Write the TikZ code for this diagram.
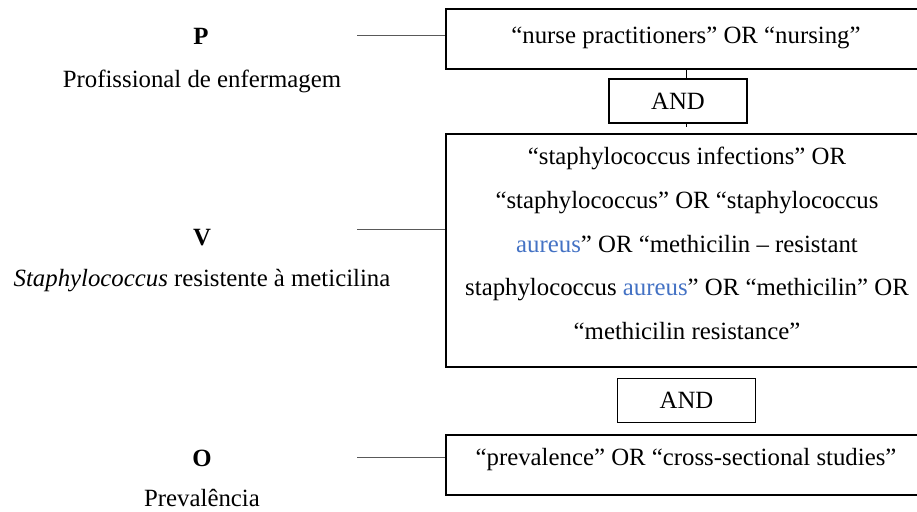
\documentclass[tikz,border=0pt]{standalone}
\usepackage{fontspec}
\setmainfont{Liberation Serif}
\usepackage{tikz}
\usetikzlibrary{positioning, calc}
\definecolor{termblue}{RGB}{68,114,196}

\begin{document}
\begin{tikzpicture}[x=0.5pt, y=-0.5pt,
    every node/.style={font=\fontsize{12.4}{21.9}\selectfont, inner sep=0pt},
    box/.style={draw, line width=0.7pt, minimum width=240pt},
    andbox/.style={draw, line width=0.7pt, minimum width=69pt, minimum height=22pt},
    picotag/.style={font=\fontsize{12.4}{21.9}\selectfont\bfseries, anchor=base},
    onbase/.style={anchor=base},
    link/.style={draw=black!65, line width=0.5pt}]
    \useasboundingbox (0,0) rectangle (917,511);
    \clip (0,0) rectangle (917,511);

    \node[picotag] (tagP) at (201,44) {P};
    \node[onbase] (nameP) at (202,87) {Profissional de enfermagem};
    \node[picotag] (tagV) at (202,245) {V};
    \node[onbase] (nameV) at (202,286) {\textit{Staphylococcus} resistente à meticilina};
    \node[picotag] (tagO) at (202,466) {O};
    \node[onbase] (nameO) at (202,506) {Prevalência};

    \node[box, minimum height=30pt] (box1) at (686,39) {};
    \node[onbase] (txt1) at (686,43) {“nurse practitioners” OR “nursing”};
    \node[andbox] (and1) at (678,101) {AND};
    \node[box, minimum height=116.5pt] (box2) at (686,250.5) {};
    \node[align=center] (txt2) at (687,243.5) {“staphylococcus infections” OR\\
        “staphylococcus” OR “staphylococcus\\
        \textcolor{termblue}{aureus}” OR “methicilin – resistant\\
        staphylococcus \textcolor{termblue}{aureus}” OR “methicilin” OR\\
        “methicilin resistance”};
    \node[andbox] (and2) at (686.5,400.5) {AND};
    \node[box, minimum height=30pt] (box3) at (686,465) {};
    \node[onbase] (txt3) at (686,465) {“prevalence” OR “cross-sectional studies”};

    \coordinate (endP) at (357,35);
    \coordinate (endV) at (357,229);
    \coordinate (endO) at (357,457);

    \draw[link]
        (endP) edge (endP -| box1.west)
        (endV) edge (endV -| box2.west)
        (endO) edge (endO -| box3.west)
        ;
    \draw[line width=0.5pt]
        (box1.south) edge (box1.south |- and1.north)
        (box1.south |- and1.south) edge ++(0,3)
        ;
\end{tikzpicture}
\end{document}
